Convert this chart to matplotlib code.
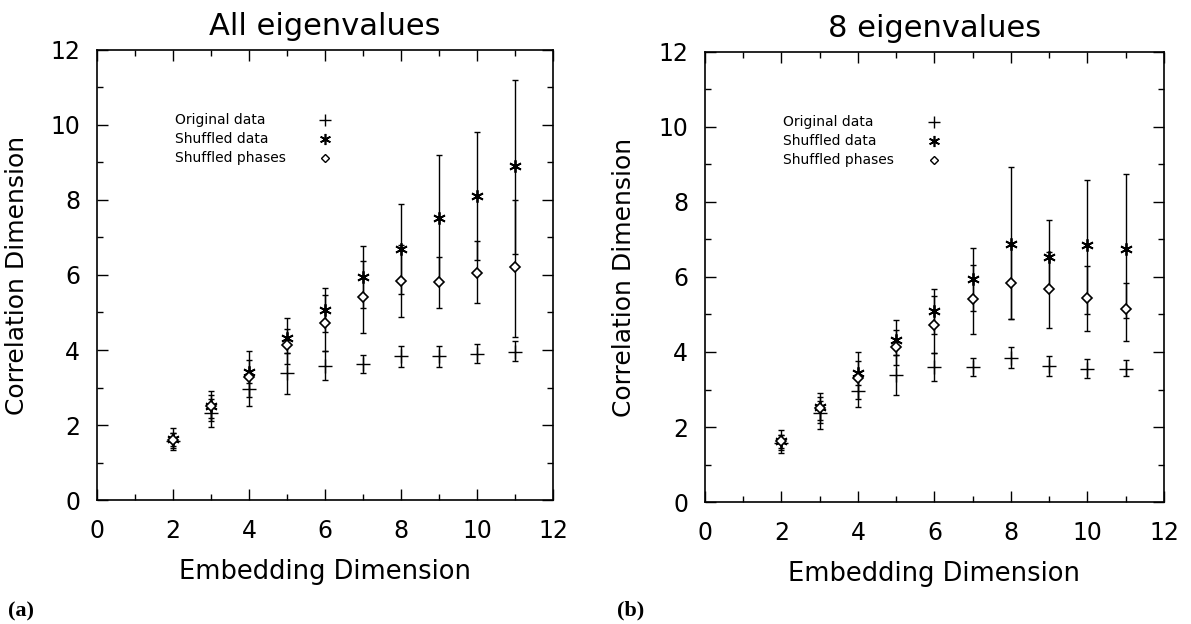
import matplotlib
matplotlib.use('Agg')
import matplotlib.pyplot as plt
from matplotlib.ticker import MultipleLocator

dims = [2, 3, 4, 5, 6, 7, 8, 9, 10, 11]

# panel (a): all eigenvalues
a_orig = [1.58, 2.33, 2.95, 3.39, 3.58, 3.62, 3.84, 3.83, 3.90, 3.95]
a_orig_lo = [1.33, 1.94, 2.51, 2.84, 3.20, 3.38, 3.55, 3.55, 3.65, 3.70]
a_orig_hi = [1.80, 2.70, 3.40, 3.91, 3.97, 3.87, 4.10, 4.11, 4.15, 4.25]
a_shuf = [1.62, 2.51, 3.42, 4.31, 5.07, 5.94, 6.69, 7.51, 8.10, 8.90]
a_shuf_lo = [1.45, 2.10, 3.11, 3.91, 4.48, 5.11, 5.49, 5.82, 6.40, 6.55]
a_shuf_hi = [1.91, 2.91, 3.97, 4.86, 5.66, 6.76, 7.88, 9.20, 9.80, 11.20]
a_phase = [1.60, 2.50, 3.27, 4.13, 4.71, 5.42, 5.85, 5.82, 6.05, 6.20]
a_phase_lo = [1.40, 2.20, 2.76, 3.64, 3.97, 4.46, 4.89, 5.11, 5.25, 4.35]
a_phase_hi = [1.80, 2.80, 3.73, 4.57, 5.47, 6.36, 6.80, 6.48, 6.90, 8.00]

# panel (b): 8 eigenvalues
b_orig = [1.58, 2.37, 2.96, 3.39, 3.61, 3.60, 3.85, 3.63, 3.55, 3.55]
b_orig_lo = [1.30, 1.96, 2.54, 2.85, 3.23, 3.36, 3.57, 3.36, 3.30, 3.35]
b_orig_hi = [1.80, 2.70, 3.40, 3.91, 3.98, 3.84, 4.12, 3.88, 3.80, 3.78]
b_shuf = [1.64, 2.54, 3.43, 4.32, 5.08, 5.94, 6.87, 6.54, 6.85, 6.74]
b_shuf_lo = [1.45, 2.10, 3.11, 3.91, 4.48, 5.08, 4.87, 5.70, 5.00, 4.90]
b_shuf_hi = [1.92, 2.92, 3.99, 4.85, 5.67, 6.77, 8.94, 7.52, 8.59, 8.74]
b_phase = [1.62, 2.50, 3.30, 4.12, 4.72, 5.40, 5.85, 5.67, 5.45, 5.15]
b_phase_lo = [1.40, 2.20, 2.76, 3.64, 3.98, 4.48, 4.87, 4.65, 4.55, 4.30]
b_phase_hi = [1.80, 2.80, 3.77, 4.59, 5.49, 6.32, 6.85, 6.67, 6.29, 5.85]

legend_labels = ['Original data', 'Shuffled data', 'Shuffled phases']
legend_y = [10.13, 9.63, 9.12]

star = (6, 2, 0)

fig = plt.figure(figsize=(11.91, 6.24), dpi=100)
ax1 = fig.add_axes([0.0814, 0.1987, 0.3829, 0.7212])
ax2 = fig.add_axes([0.5919, 0.1955, 0.3854, 0.7212])


def draw_panel(ax, title, orig, olo, ohi, shuf, slo, shi, ph, plo, phi):
    err = dict(fmt='none', ecolor='black', elinewidth=1.0, capsize=2.2, capthick=1.0)
    ax.errorbar(dims, orig, yerr=[[o - l for o, l in zip(orig, olo)],
                                  [h - o for o, h in zip(orig, ohi)]], **err)
    ax.errorbar(dims, shuf, yerr=[[s - l for s, l in zip(shuf, slo)],
                                  [h - s for s, h in zip(shuf, shi)]], **err)
    ax.errorbar(dims, ph, yerr=[[p - l for p, l in zip(ph, plo)],
                                [h - p for p, h in zip(ph, phi)]], **err)
    ax.plot(dims, orig, ls='none', marker='+', ms=10, mew=1.0, color='black')
    ax.plot(dims, shuf, ls='none', marker=star, ms=9, mew=1.3, color='black')
    ax.plot(dims, ph, ls='none', marker='D', ms=5, mew=1.2, mfc='white', mec='black')

    # legend drawn in data space like the original
    for lab, y in zip(legend_labels, legend_y):
        ax.text(2.05, y, lab, fontsize=10, va='center', ha='left')
    ax.plot([6.0], [legend_y[0]], marker='+', ms=9, mew=1.0, color='black')
    ax.plot([6.0], [legend_y[1]], marker=star, ms=8, mew=1.2, color='black')
    ax.plot([6.0], [legend_y[2]], marker='D', ms=4.5, mew=1.0, mfc='white', mec='black')

    ax.set_xlim(0, 12)
    ax.set_ylim(0, 12)
    ax.xaxis.set_major_locator(MultipleLocator(2))
    ax.xaxis.set_minor_locator(MultipleLocator(1))
    ax.yaxis.set_major_locator(MultipleLocator(2))
    ax.yaxis.set_minor_locator(MultipleLocator(1))
    ax.tick_params(which='both', direction='in', top=True, right=True, width=1.0)
    ax.tick_params(which='major', length=8)
    ax.tick_params(which='minor', length=4)
    ax.tick_params(axis='x', which='major', labelsize=17, pad=14)
    ax.tick_params(axis='y', which='major', labelsize=17, pad=12)
    for s in ax.spines.values():
        s.set_linewidth(1.2)
    ax.set_title(title, fontsize=22, pad=11)
    ax.set_xlabel('Embedding Dimension', fontsize=18.5)
    ax.set_ylabel('Correlation Dimension', fontsize=18)
    ax.xaxis.set_label_coords(0.5, -0.13)
    ax.yaxis.set_label_coords(-0.15, 0.5)


draw_panel(ax1, 'All eigenvalues', a_orig, a_orig_lo, a_orig_hi,
           a_shuf, a_shuf_lo, a_shuf_hi, a_phase, a_phase_lo, a_phase_hi)
draw_panel(ax2, '8 eigenvalues', b_orig, b_orig_lo, b_orig_hi,
           b_shuf, b_shuf_lo, b_shuf_hi, b_phase, b_phase_lo, b_phase_hi)

fig.text(0.007, 0.012, '(a)', fontsize=16, fontweight='bold', family='Liberation Serif')
fig.text(0.518, 0.014, '(b)', fontsize=16, fontweight='bold', family='Liberation Serif')

fig.savefig('out.png', dpi=100)
